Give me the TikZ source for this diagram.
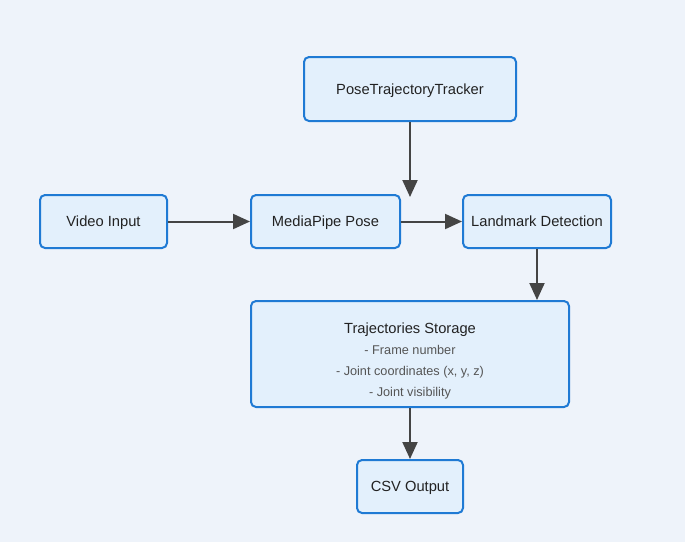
\documentclass[tikz,border=0pt]{standalone}
\usepackage{fontspec}
\setmainfont{Liberation Sans}
\usetikzlibrary{arrows.meta,calc}
\definecolor{bg}{HTML}{EEF3FA}
\definecolor{boxfill}{HTML}{E3F0FC}
\definecolor{boxdraw}{HTML}{1F7AD4}
\definecolor{arrowc}{HTML}{444444}
\definecolor{subtxt}{HTML}{555555}
\definecolor{maintxt}{HTML}{222222}
\begin{document}
\begin{tikzpicture}[x=1pt,y=-1pt,
  box/.style={draw=boxdraw,fill=boxfill,line width=2pt,rounded corners=5pt,inner sep=0pt,
    font=\fontsize{14.7}{18}\selectfont,text=maintxt,text height=12.6pt,text depth=2pt},
  sub/.style={font=\fontsize{12.7}{15}\selectfont,text=subtxt,inner sep=0pt,anchor=base},
  conn/.style={draw=arrowc,line width=2pt,-{Triangle[length=17pt,width=15pt]}}]
\fill[bg] (0,0) rectangle (685,542);
\useasboundingbox (0,0) rectangle (685,542);
\node[box,minimum width=212pt,minimum height=64pt] (tracker) at (410,89) {PoseTrajectoryTracker};
\node[box,minimum width=127pt,minimum height=53pt] (video) at (103.5,221.5) {Video Input};
\node[box,minimum width=149pt,minimum height=53pt] (mp) at (325.5,221.5) {MediaPipe Pose};
\node[box,minimum width=148pt,minimum height=53pt] (lm) at (537,221.5) {Landmark Detection};
\node[box,minimum width=318pt,minimum height=106pt] (store) at (410,354) {};
\node[box,minimum width=106pt,minimum height=53pt] (csv) at (410,486.5) {CSV Output};
\node[font=\fontsize{14.7}{18}\selectfont,text=maintxt,inner sep=0pt,anchor=base] (st1) at (410,333.5) {Trajectories Storage};
\node[sub] (st2) at (410,354) {- Frame number};
\node[sub] (st3) at (410,375) {- Joint coordinates (x, y, z)};
\node[sub] (st4) at (410,396) {- Joint visibility};
\coordinate (tend) at (410,197);
\draw[conn] (tracker.south) -- (tend);
\draw[conn] (video.east) -- (mp.west);
\draw[conn] (mp.east) -- (lm.west);
\draw[conn] (lm.south) -- (lm.south |- store.north);
\draw[conn] (store.south) -- (csv.north);
\end{tikzpicture}
\end{document}
